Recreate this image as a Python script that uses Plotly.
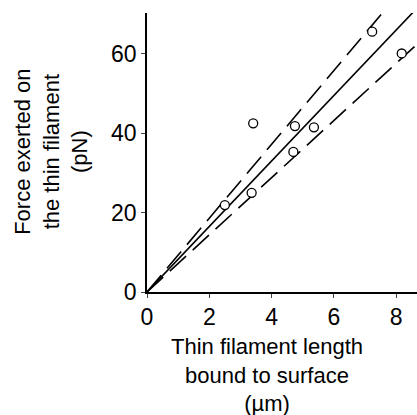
import plotly.graph_objects as go

# Data
length_um = [2.5, 3.36, 3.41, 4.75, 4.70, 5.36, 7.23, 8.18]
force_pN = [21.9, 25.0, 42.5, 41.8, 35.3, 41.5, 65.6, 60.1]
slope_fit = 8.25     # pN per um (solid line)
slope_upper = 9.3    # dashed upper bound
slope_lower = 7.2    # dashed lower bound
x_ticks = [0, 2, 4, 6, 8]
y_ticks = [0, 20, 40, 60]

x_line = [0, 9.0]
FONT = "Liberation Sans, Arial, sans-serif"
FS_TICK = 23
FS_TITLE = 22

fig = go.Figure()
fig.add_trace(go.Scatter(x=x_line, y=[slope_upper * v for v in x_line], mode="lines",
                         line=dict(color="black", width=1.6, dash="22px,9px"), showlegend=False))
fig.add_trace(go.Scatter(x=x_line, y=[slope_fit * v for v in x_line], mode="lines",
                         line=dict(color="black", width=1.6), showlegend=False))
fig.add_trace(go.Scatter(x=x_line, y=[slope_lower * v for v in x_line], mode="lines",
                         line=dict(color="black", width=1.6, dash="22px,9px"), showlegend=False))
fig.add_trace(go.Scatter(x=length_um, y=force_pN, mode="markers",
                         marker=dict(symbol="circle", size=9, color="white",
                                     line=dict(color="black", width=1.3)),
                         showlegend=False, cliponaxis=False))

fig.update_layout(
    width=417, height=415,
    margin=dict(l=147, r=0, t=13, b=123),
    paper_bgcolor="white", plot_bgcolor="white",
    font=dict(family=FONT, size=FS_TICK, color="black"),
    xaxis=dict(range=[0, 8.67], tickvals=x_ticks, ticks="outside", ticklen=4, tickwidth=1.2,
               showline=True, linecolor="black", linewidth=1.5, showgrid=False, zeroline=False,
               automargin=False, tickfont=dict(size=FS_TICK, family=FONT)),
    yaxis=dict(range=[0, 70.3], tickvals=y_ticks, ticks="outside", ticklen=4, tickwidth=1.2,
               showline=True, linecolor="black", linewidth=1.5, showgrid=False, zeroline=False,
               automargin=False, tickfont=dict(size=FS_TICK, family=FONT)),
    annotations=[
        dict(text="Thin filament length<br>bound to surface<br>(µm)", xref="paper", yref="paper",
             x=0.444, y=-0.299, xanchor="center", yanchor="middle", showarrow=False,
             font=dict(size=FS_TITLE, family=FONT)),
        dict(text="Force exerted on<br>the thin filament<br>(pN)", xref="paper", yref="paper",
             x=-0.356, y=0.502, xanchor="center", yanchor="middle", showarrow=False,
             textangle=-90, font=dict(size=FS_TITLE, family=FONT)),
    ],
)

fig.write_html("out.html", config={"displayModeBar": False},
               post_script="document.body.style.margin='0';document.body.style.padding='0';")
